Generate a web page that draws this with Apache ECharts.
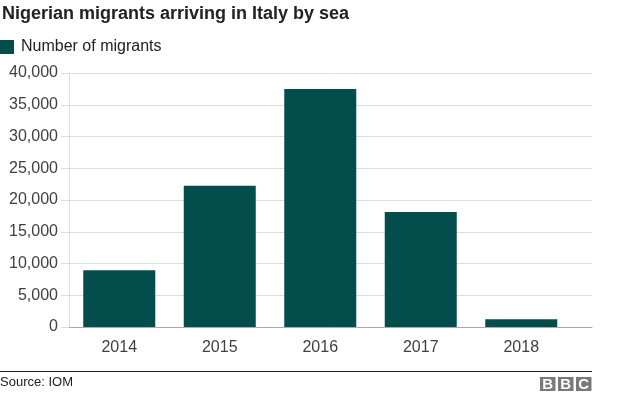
<!DOCTYPE html>
<html>
<head>
<meta charset="utf-8">
<script src="https://cdn.jsdelivr.net/npm/echarts@6/dist/echarts.min.js"></script>
<style>
html,body{margin:0;padding:0;background:#fff;}
#c{width:624px;height:395px;}
</style>
</head>
<body>
<div id="c"></div>
<script>
var categories = ['2014', '2015', '2016', '2017', '2018'];
var migrants = [8950, 22240, 37500, 18100, 1220];
var yTicks = [0, 5000, 10000, 15000, 20000, 25000, 30000, 35000, 40000];

var FONT = '"Liberation Sans", Arial, Helvetica, sans-serif';
var chart = echarts.init(document.getElementById('c'), null, {renderer: 'canvas'});
var bbcBoxes = [540, 558, 576];
var bbcLetters = ['B', 'B', 'C'];
var graphics = [
  {type: 'text', left: 2, top: 5, style: {text: 'Nigerian migrants arriving in Italy by sea', font: 'bold 18px ' + FONT, fill: '#222222'}},
  {type: 'line', shape: {x1: 0, y1: 371.5, x2: 592, y2: 371.5}, style: {stroke: '#222222', lineWidth: 1}},
  {type: 'text', left: 0, top: 376, style: {text: 'Source: IOM', font: '13px ' + FONT, fill: '#222222'}}
];
bbcBoxes.forEach(function (x, i) {
  graphics.push({type: 'rect', shape: {x: x, y: 377, width: 15.5, height: 14}, style: {fill: '#7a7a7a'}});
  graphics.push({type: 'text', x: x + 7.75, y: 384.5, style: {text: bbcLetters[i], font: 'bold 15px ' + FONT, fill: '#ffffff', align: 'center', verticalAlign: 'middle'}});
});

chart.setOption({
  animation: false,
  textStyle: {fontFamily: FONT},
  legend: {
    left: 0, top: 39, padding: 0, itemWidth: 14, itemHeight: 14, itemGap: 10,
    icon: 'rect',
    textStyle: {fontSize: 16, color: '#222222', fontFamily: FONT, padding: [0, 0, 0, 2]},
    data: ['Number of migrants']
  },
  grid: [
    {left: 69, right: 32, top: 73, height: 254, containLabel: false},
    {left: 69, width: 502.5, top: 73, height: 254, containLabel: false}
  ],
  xAxis: [
    {gridIndex: 0, type: 'value', min: 0, max: 1, axisLine: {show: true, lineStyle: {color: '#aaaaaa', width: 1}}, axisTick: {show: false}, axisLabel: {show: false}, splitLine: {show: false}},
    {gridIndex: 1, type: 'category', data: categories, axisLine: {show: false}, axisTick: {show: false}, splitLine: {show: false},
     axisLabel: {fontSize: 16, color: '#404040', margin: 13, fontFamily: FONT}}
  ],
  yAxis: [
    {gridIndex: 0, type: 'value', min: yTicks[0], max: yTicks[yTicks.length - 1], interval: yTicks[1] - yTicks[0],
     axisLine: {show: true, lineStyle: {color: '#dddddd'}},
     axisTick: {show: true, length: 8, lineStyle: {color: '#dddddd'}},
     splitLine: {show: true, lineStyle: {color: '#dddddd', width: 1}},
     axisLabel: {fontSize: 16, color: '#404040', margin: 11, fontFamily: FONT,
       formatter: function (v) { return v.toLocaleString('en-US'); }}},
    {gridIndex: 1, type: 'value', min: yTicks[0], max: yTicks[yTicks.length - 1], show: false}
  ],
  series: [{
    name: 'Number of migrants', type: 'bar', xAxisIndex: 1, yAxisIndex: 1,
    data: migrants, barWidth: 72, itemStyle: {color: '#034d4d'}
  }],
  graphic: graphics
});
</script>
</body>
</html>
